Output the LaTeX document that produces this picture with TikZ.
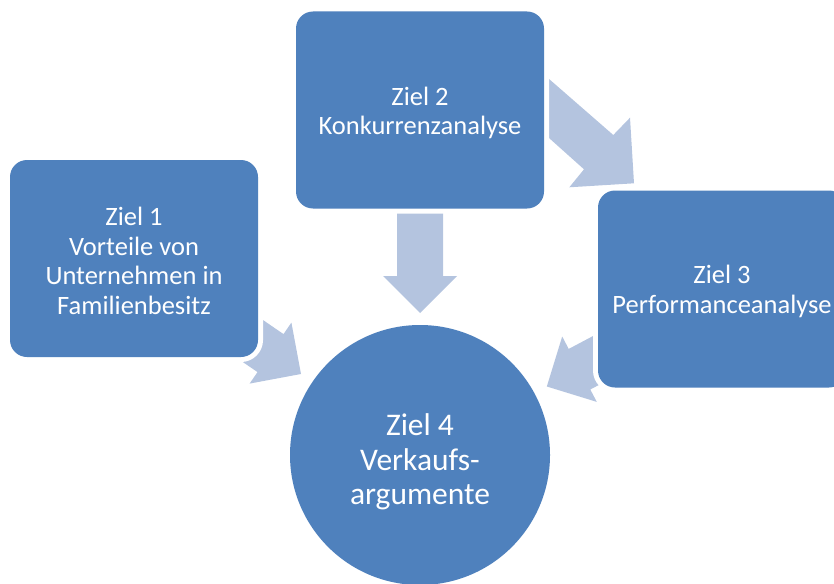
\documentclass[tikz,border=0pt]{standalone}
\usepackage{fontspec}
\setmainfont{Carlito}
\definecolor{boxblue}{RGB}{79,129,189}
\definecolor{arrowblue}{RGB}{180,196,223}
\begin{document}
\begin{tikzpicture}[x=1pt,y=-1pt,
  box/.style={rectangle, rounded corners=17pt, fill=boxblue,
    preaction={draw=white, line width=10pt},
    minimum width=248pt, minimum height=197pt, inner sep=0pt},
  boxtext/.style={text=white, align=center, font=\fontsize{26.5}{29.5}\selectfont},
  round/.style={circle, fill=boxblue, preaction={draw=white, line width=10pt},
    minimum size=260pt, inner sep=0pt},
  roundtext/.style={text=white, align=center, font=\fontsize{31.5}{34.5}\selectfont},
  blockarrow/.style={fill=arrowblue}]
\useasboundingbox (0,0) rectangle (834,583);
% block arrows (drawn first, tails hidden under the boxes)
\fill[blockarrow] (397,200) -- (443,200) -- (443,276) -- (457,276) -- (420,313)
  -- (383,276) -- (397,276) -- cycle;
\fill[blockarrow] (530,62.4) -- (613.3,135) -- (630,117.7) -- (634,183.3)
  -- (569.3,187.3) -- (584,169.3) -- (530,121) -- cycle;
\fill[blockarrow] (217.5,288.8) -- (283.5,334.1) -- (291.4,322.6) -- (301,374)
  -- (249.6,383.6) -- (257.5,372.1) -- (191.5,326.8) -- cycle;
\fill[blockarrow] (639.4,311.5) -- (568.7,348.9) -- (562.2,336.5) -- (546.8,386.5)
  -- (596.8,401.9) -- (590.3,389.5) -- (661,352.1) -- cycle;
% boxes
\node[box] (z1) at (134,258.5) {};
\node[boxtext] (z1t) at (134,261) {Ziel 1\\Vorteile von\\Unternehmen in\\Familienbesitz};
\node[box] (z2) at (420,110) {};
\node[boxtext] (z2t) at (420,113) {Ziel 2\\Konkurrenzanalyse};
\node[box] (z3) at (722,289) {};
\node[boxtext] (z3t) at (722,291.5) {Ziel 3\\Performanceanalyse};
\node[round] (z4) at (420,455) {};
\node[roundtext] (z4t) at (420,462) {Ziel 4\\Verkaufs-\\argumente};
\end{tikzpicture}
\end{document}
